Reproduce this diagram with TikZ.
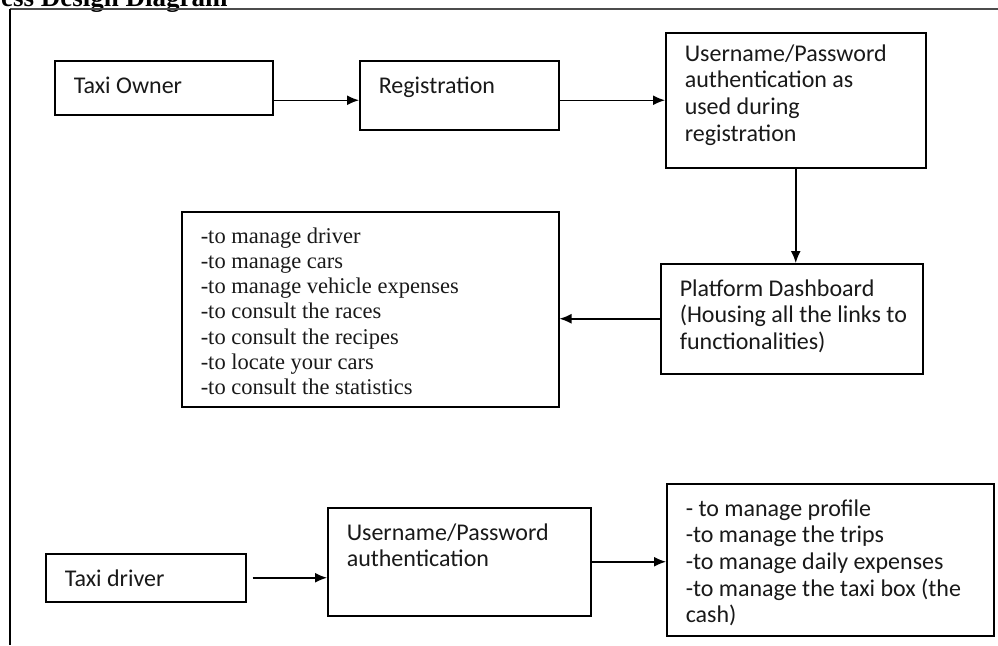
\documentclass[tikz,border=0pt]{standalone}
\usepackage{fontspec}
\setmainfont{Carlito}
\newfontfamily\listfont{Liberation Serif}
\usetikzlibrary{arrows.meta}
\newcommand{\boxlines}[3]{\parbox[c][#2][t]{#1}{\begin{tabular}[t]{@{}l@{}}#3\end{tabular}}}

\begin{document}
\begin{tikzpicture}[x=1pt,y=-1pt,
    box/.style={draw,line width=1.5pt,anchor=north west,inner xsep=19pt,inner ysep=14pt,
                text=black!90,font=\fontsize{24}{26.6}\selectfont},
    list/.style={box,font=\listfont\fontsize{22.5}{25.2}\selectfont},
    arr/.style={-{Latex[length=12pt,width=10pt]},line width=1.5pt}
  ]
    \useasboundingbox (0,0) rectangle (998,645);
    \node[anchor=base west,inner sep=0pt,font=\listfont\bfseries\fontsize{27}{30}\selectfont] (title) at (1,6) {ess Design Diagram};
    \draw[black!70,line width=1.2pt] (10,9) -- (998,9);
    \draw[line width=2.5pt] (10,9) -- (10,645);
    % owner side
    \node[box] (owner) at (54,60) {\boxlines{180pt}{26pt}{Taxi Owner}};
    \node[box] (reg) at (359,60) {\boxlines{161pt}{41pt}{Registration}};
    \node[box,inner ysep=10pt] (auth) at (665,32) {\boxlines{222pt}{115pt}{Username/Password\\authentication as\\used during\\registration}};
    \node[box] (dash) at (660,263) {\boxlines{224pt}{82pt}{Platform Dashboard\\(Housing all the links to\\functionalities)}};
    \node[list] (tasks) at (181,211) {\boxlines{339pt}{167pt}{-to manage driver\\-to manage cars\\-to manage vehicle expenses\\-to consult the races\\-to consult the recipes\\-to locate your cars\\-to consult the statistics}};
    % driver side
    \node[box] (driver) at (45,553) {\boxlines{162pt}{20pt}{Taxi driver}};
    \node[box] (dauth) at (327,507) {\boxlines{225pt}{80pt}{Username/Password\\authentication}};
    \node[box] (dtasks) at (666,483) {\boxlines{289pt}{124pt}{- to manage profile\\-to manage the trips\\-to manage daily expenses\\-to manage the taxi box (the\\cash)}};
    \draw[arr] (owner.east |- auth.west) -- (reg.west |- auth.west);
    \draw[arr] (reg.east |- auth.west) -- (auth.west);
    \draw[arr] (auth.south) -- (auth.south |- dash.north);
    \draw[arr] (dash.west) -- (dash.west -| tasks.east);
    \draw[arr] ([xshift=6pt]driver.east) -- (dauth.west |- driver.east);
    \draw[arr] (dauth.east) -- (dauth.east -| dtasks.west);
  \end{tikzpicture}
\end{document}
